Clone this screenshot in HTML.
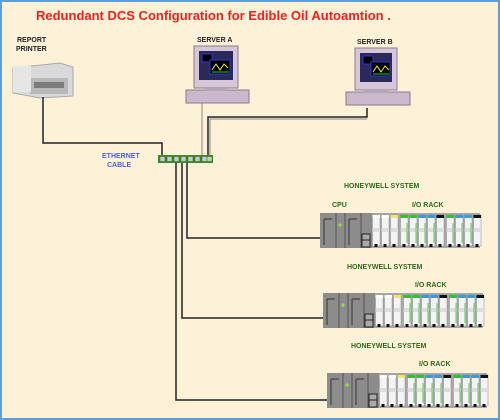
<!DOCTYPE html>
<html><head><meta charset="utf-8"><style>
html,body{margin:0;padding:0;}
body{width:500px;height:420px;overflow:hidden;background:#fdf1d8;}
svg{display:block;}
text{font-family:"Liberation Sans",Arial,sans-serif;font-weight:bold;}
</style></head><body>
<svg width="500" height="420" viewBox="0 0 500 420" xmlns="http://www.w3.org/2000/svg">
<defs>
<g id="rack">
  <rect x="0" y="0" width="160" height="35" fill="#9a9a9a"/>
  <rect x="0" y="0" width="52" height="35" fill="#8c8c8c"/>
  <line x1="16" y1="0" x2="16" y2="35" stroke="#555" stroke-width="1"/>
  <line x1="25" y1="0" x2="25" y2="35" stroke="#555" stroke-width="1"/>
  <line x1="41" y1="0" x2="41" y2="35" stroke="#555" stroke-width="1"/>
  <path d="M4 6 h8 M4 6 v26 M29 6 h8 M29 6 v26" stroke="#444" stroke-width="1.2" fill="none"/>
  <circle cx="19" cy="12" r="1.6" fill="#8fe040"/>
  <rect x="42" y="22" width="8" height="12" fill="#aaa" stroke="#222" stroke-width="1"/>
  <line x1="42" y1="28" x2="50" y2="28" stroke="#222"/>
  <g id="mods"></g>
</g>
</defs>
<rect x="1" y="1" width="498" height="418" fill="#fdf1d8" stroke="#5b9fd6" stroke-width="2"/>
<text x="36" y="20" font-size="13" fill="#f2201e">Redundant DCS Configuration for Edible Oil Autoamtion .</text>

<!-- printer -->
<text x="17" y="42" font-size="7" fill="#222">REPORT</text>
<text x="16" y="51" font-size="7" fill="#222">PRINTER</text>
<g>
  <path d="M13 68 L60 63 L73 67 L73 96 L40 98 L13 93 Z" fill="#d9d9d9" stroke="#aaa"/>
  <rect x="30" y="78" width="38" height="16" fill="#b8b8b8"/>
  <rect x="34" y="82" width="30" height="6" fill="#7c7c7c"/>
  <rect x="13" y="66" width="18" height="26" fill="#e6e6e6"/>
</g>

<!-- server A -->
<text x="197" y="42" font-size="7" fill="#222">SERVER A</text>
<g transform="translate(194,46)">
  <rect x="0" y="0" width="44" height="42" fill="#d7c6d8" stroke="#8a7a8a"/>
  <rect x="5" y="5" width="34" height="29" fill="#2a2a5a"/>
  <rect x="8" y="8" width="10" height="8" fill="#000" stroke="#33c"/>
  <rect x="16" y="14" width="20" height="14" fill="#000" stroke="#33c"/>
  <path d="M18 24 l4 -6 l4 6 l4 -6 l4 4" stroke="#ee3" fill="none"/>
  <line x1="18" y1="26" x2="35" y2="26" stroke="#2c2"/>
  <rect x="-8" y="44" width="63" height="13" fill="#cbb8cc" stroke="#8a7a8a"/>
  <rect x="10" y="42" width="24" height="3" fill="#b7a6b8"/>
</g>
<!-- server B -->
<text x="357" y="44" font-size="7" fill="#222">SERVER B</text>
<g transform="translate(355,48)">
  <rect x="0" y="0" width="42" height="42" fill="#d7c6d8" stroke="#8a7a8a"/>
  <rect x="5" y="5" width="32" height="29" fill="#2a2a5a"/>
  <rect x="8" y="8" width="10" height="8" fill="#000" stroke="#33c"/>
  <rect x="16" y="14" width="19" height="14" fill="#000" stroke="#33c"/>
  <path d="M18 24 l4 -6 l4 6 l4 -6 l4 4" stroke="#ee3" fill="none"/>
  <line x1="18" y1="26" x2="34" y2="26" stroke="#2c2"/>
  <rect x="-9" y="44" width="64" height="13" fill="#cbb8cc" stroke="#8a7a8a"/>
  <rect x="9" y="42" width="24" height="3" fill="#b7a6b8"/>
</g>

<!-- cables -->
<g fill="none" stroke="#222" stroke-width="1.5">
  <path d="M43 97 V143 H162 V156"/>
  <path d="M208 156 V117 H367 V108"/>
  <path d="M187 162 V238 H368"/>
  <path d="M182 162 V318 H372"/>
  <path d="M176 162 V400 H376"/>
</g>
<g fill="none" stroke="#888" stroke-width="1">
  <path d="M202 103 V156"/>
  <path d="M210 156 V119 H367"/>
</g>
<!-- switch -->
<rect x="158" y="155" width="55" height="8" fill="#3a8a2a"/>
<g fill="#c8c8c8" stroke="#2a6a1a" stroke-width="0.5">
  <rect x="160" y="156.5" width="5" height="5"/><rect x="167" y="156.5" width="5" height="5"/>
  <rect x="174" y="156.5" width="5" height="5"/><rect x="181" y="156.5" width="5" height="5"/>
  <rect x="188" y="156.5" width="5" height="5"/><rect x="195" y="156.5" width="5" height="5"/>
  <rect x="202" y="156.5" width="5" height="5"/><rect x="207" y="156.5" width="5" height="5"/>
</g>
<text x="102" y="158" font-size="7" fill="#4a5fe8" font-weight="normal">ETHERNET</text>
<text x="107" y="167" font-size="7" fill="#4a5fe8" font-weight="normal">CABLE</text>

<!-- labels -->
<g font-size="7" fill="#2a6a1a">
<text x="344" y="188">HONEYWELL SYSTEM</text>
<text x="332" y="207">CPU</text>
<text x="412" y="207">I/O RACK</text>
<text x="347" y="269">HONEYWELL SYSTEM</text>
<text x="415" y="287">I/O RACK</text>
<text x="351" y="348">HONEYWELL SYSTEM</text>
<text x="419" y="366">I/O RACK</text>
</g>
<g id="racks"></g>
</svg>
<script>
(function(){
var ns="http://www.w3.org/2000/svg";
var cols=["#fff","#fff","#f2e66a","#2ec42e","#2ec42e","#3a9ae0","#3a9ae0","#111","#2ec42e","#3a9ae0","#3a9ae0","#111"];
var racks=[[320,213],[323,293],[327,373]];
var root=document.getElementById("racks");
racks.forEach(function(p){
  var g=document.createElementNS(ns,"g");
  g.setAttribute("transform","translate("+p[0]+","+p[1]+")");
  var h='<rect x="0" y="0" width="160" height="35" fill="#a8a8a8"/>'+
  '<rect x="0" y="0" width="52" height="35" fill="#8c8c8c"/>'+
  '<line x1="16" y1="0" x2="16" y2="35" stroke="#555"/><line x1="25" y1="0" x2="25" y2="35" stroke="#555"/><line x1="41" y1="0" x2="41" y2="35" stroke="#555"/>'+
  '<path d="M4 6 h8 M4 6 v26 M29 6 h8 M29 6 v26" stroke="#444" stroke-width="1.2" fill="none"/>'+
  '<circle cx="20" cy="12" r="1.6" fill="#8fe040"/>'+
  '<rect x="42" y="21" width="8" height="13" fill="#aaa" stroke="#222"/><line x1="42" y1="27" x2="50" y2="27" stroke="#222"/>';
  var xs=[52,61,70,80,89,98,107,116,126,135,144,153];
  for(var i=0;i<12;i++){
    var x=xs[i];
    h+='<rect x="'+(x+0.5)+'" y="2" width="7.5" height="31" fill="#f4f4f4" stroke="#888" stroke-width="0.5"/>';
    h+='<rect x="'+(x+0.5)+'" y="2" width="7.5" height="3" fill="'+cols[i]+'"/>';
    h+='<rect x="'+(x+0.5)+'" y="15" width="7.5" height="4" fill="#ddd"/>';
    h+='<rect x="'+(x+2.5)+'" y="31" width="3" height="3" fill="#111"/>';
    if(i>=3&&i!=7&&i!=11) h+='<line x1="'+(x+7)+'" y1="10" x2="'+(x+7)+'" y2="30" stroke="#3c3" stroke-width="0.8"/>';
  }
  g.innerHTML=h;
  root.appendChild(g);
});
})();
</script>
</body></html>
